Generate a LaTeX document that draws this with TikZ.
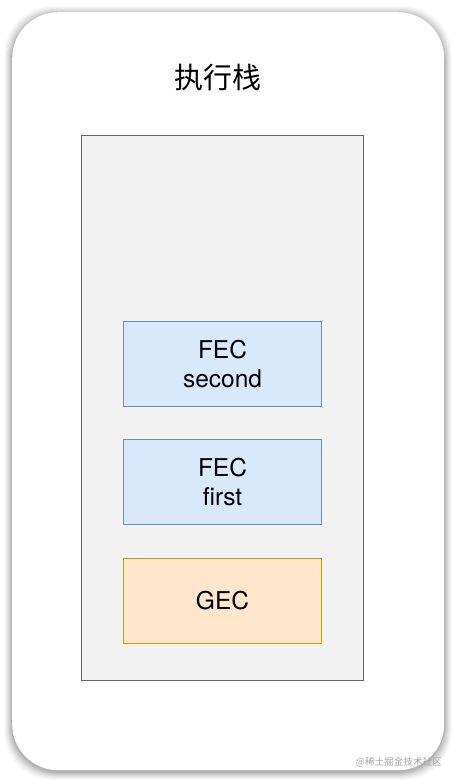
\documentclass[tikz,border=0pt]{standalone}
\usepackage{fontspec}
\setmainfont{TeX Gyre Heros}
\newfontfamily\cjk{Noto Sans CJK SC}
\begin{document}
\begin{tikzpicture}[x=1pt,y=-1pt,
  box/.style={draw, line width=1pt, minimum width=198pt, minimum height=85pt, anchor=north west, align=center, font=\fontsize{24.5}{29.5}\selectfont, inner sep=0pt},
  fec/.style={box, fill={rgb,255:red,218;green,232;blue,252}, draw={rgb,255:red,108;green,142;blue,191}},
  gec/.style={box, fill={rgb,255:red,255;green,230;blue,204}, draw={rgb,255:red,215;green,155;blue,0}}]
\useasboundingbox[fill=white] (0,0) rectangle (456,782);
% shadow
\foreach \i/\o in {8/0.02,7/0.025,6/0.03,5/0.035,4/0.04,3/0.05,2/0.06,1/0.07}{
  \fill[black, opacity=\o, rounded corners=48pt] (12-\i,12-\i+2) rectangle (444+\i,770+\i+2);
}
\node[draw=none, fill=white, rounded corners=46pt, minimum width=432pt, minimum height=758pt, anchor=north west, inner sep=0pt] (card) at (12,12) {};
\node[font=\cjk\fontsize{29}{32}\selectfont] (title) at (218,78) {执行栈};
\node[draw={rgb,255:red,102;green,102;blue,102}, line width=1pt, fill={rgb,255:red,242;green,242;blue,242}, minimum width=282pt, minimum height=545pt, anchor=north west, inner sep=0pt] (stack) at (81,135) {};
\node[fec] (second) at (123,321) {FEC\\second};
\node[fec] (first) at (123,439) {FEC\\first};
\node[gec] (gec) at (123,558) {GEC};
\node[font=\cjk\fontsize{9.6}{11}\selectfont, text={rgb,255:red,165;green,165;blue,165}, anchor=east, inner sep=0pt] (wm) at (442,762) {@稀土掘金技术社区};
\end{tikzpicture}
\end{document}
